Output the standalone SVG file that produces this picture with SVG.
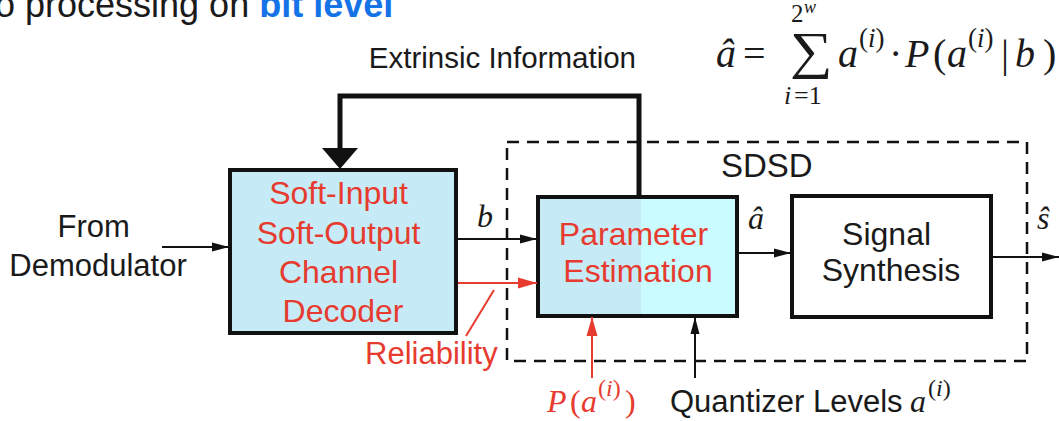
<svg xmlns="http://www.w3.org/2000/svg" width="1059" height="421" viewBox="0 0 1059 421">
  <defs>
    <style>
      .sans { font-family: "Liberation Sans", Arial, sans-serif; font-size: 31px; fill: #1a1a1a; }
      .big { font-size: 32px; }
      .mi { font-family: "Liberation Serif", "Times New Roman", serif; font-style: italic; fill: #1a1a1a; }
      .mu { font-family: "Liberation Serif", "Times New Roman", serif; fill: #1a1a1a; }
      .red, .red tspan { fill: #e63b2e; }
      .box { stroke: #111; stroke-width: 4; }
      .thin { stroke: #111; stroke-width: 2; fill: none; }
      .thinred { stroke: #e63b2e; stroke-width: 2; fill: none; }
      .dash { stroke: #111; stroke-width: 2.5; fill: none; stroke-dasharray: 12 8; }
    </style>
    <marker id="arrowBlack" markerUnits="userSpaceOnUse" markerWidth="18" markerHeight="10" refX="17" refY="5" orient="auto">
      <path d="M0,0.5 L17,5 L0,9.5 z" fill="#111"/>
    </marker>
    <marker id="arrowRed" markerUnits="userSpaceOnUse" markerWidth="20" markerHeight="12" refX="19" refY="6" orient="auto">
      <path d="M0,0.5 L19,6 L0,11.5 z" fill="#e63b2e"/>
    </marker>
  </defs>

  <rect width="1059" height="421" fill="#ffffff"/>

  <!-- heading line, runs off the left edge -->
  <text class="sans" x="-5" y="17" style="font-size:36px">o processing on <tspan style="font-weight:bold;fill:#1473e6">bit level</tspan></text>

  <!-- estimator formula -->
  <g id="formula">
    <text class="mi" x="716" y="67" font-size="40">â</text>
    <text class="mu" x="743" y="67" font-size="40">=</text>
    <text class="mu" font-size="52" transform="translate(790,68) scale(1.15,1)">∑</text>
    <text class="mu" x="791" y="22" font-size="25">2</text>
    <text class="mi" x="804" y="13" font-size="18">w</text>
    <text class="mi" x="784" y="104" font-size="26">i</text>
    <text class="mu" x="794" y="104" font-size="26">=1</text>
    <text class="mi" x="838" y="67" font-size="40">a</text>
    <text class="mu" x="859" y="47" font-size="27">(<tspan class="mi">i</tspan>)</text>
    <text class="mu" x="889" y="67" font-size="40">·</text>
    <text class="mi" x="905" y="67" font-size="40">P</text>
    <text class="mu" x="933" y="67" font-size="40">(</text>
    <text class="mi" x="947" y="67" font-size="40">a</text>
    <text class="mu" x="968" y="47" font-size="27">(<tspan class="mi">i</tspan>)</text>
    <text class="mu" x="1001" y="67" font-size="40">|</text>
    <text class="mi" x="1015" y="67" font-size="40">b</text>
    <text class="mu" x="1043" y="67" font-size="40">)</text>
  </g>

  <!-- SDSD boundary -->
  <g id="sdsd">
    <rect class="dash" x="507" y="142" width="520" height="219"/>
    <text class="sans" x="721" y="177" style="font-size:33px">SDSD</text>
  </g>

  <!-- channel decoder -->
  <g id="siso-decoder">
    <rect class="box" x="230" y="170" width="226" height="163" fill="#c6eaf6"/>
    <text class="sans big red" text-anchor="middle">
      <tspan x="343" y="204">Soft-Input</tspan>
      <tspan x="343" y="244">Soft-Output</tspan>
      <tspan x="343" y="283">Channel</tspan>
      <tspan x="343" y="322">Decoder</tspan>
    </text>
  </g>

  <!-- parameter estimation -->
  <g id="parameter-estimation">
    <rect x="538" y="197" width="103" height="119" fill="#c6eaf6"/>
    <rect x="641" y="197" width="96" height="119" fill="#c9fbff"/>
    <rect class="box" x="538" y="197" width="199" height="119" fill="none"/>
    <text class="sans big red" text-anchor="middle">
      <tspan x="638" y="245">Parameter</tspan>
      <tspan x="638" y="282">Estimation</tspan>
    </text>
  </g>

  <!-- signal synthesis -->
  <g id="signal-synthesis">
    <rect class="box" x="792" y="196" width="199" height="121" fill="#ffffff"/>
    <text class="sans big" text-anchor="middle">
      <tspan x="891" y="245">Signal</tspan>
      <tspan x="891" y="281">Synthesis</tspan>
    </text>
  </g>

  <!-- connectors -->
  <g id="connectors">
    <!-- extrinsic feedback loop -->
    <polyline points="639,197 639,96 340,96 340,150" fill="none" stroke="#111" stroke-width="5"/>
    <polygon points="322,148 358,148 340,169" fill="#111"/>
    <!-- demodulator input -->
    <line class="thin" x1="162" y1="247" x2="229" y2="247" marker-end="url(#arrowBlack)"/>
    <!-- b -->
    <line class="thin" x1="458" y1="239" x2="537" y2="239" marker-end="url(#arrowBlack)"/>
    <!-- reliability -->
    <line class="thinred" x1="458" y1="283" x2="537" y2="283" marker-end="url(#arrowRed)"/>
    <line class="thinred" x1="494" y1="290" x2="466" y2="336"/>
    <!-- a-hat -->
    <line class="thin" x1="739" y1="253" x2="791" y2="253" marker-end="url(#arrowBlack)"/>
    <!-- s-hat -->
    <line class="thin" x1="993" y1="257" x2="1059" y2="257" marker-end="url(#arrowBlack)"/>
    <!-- a priori probabilities -->
    <line class="thinred" x1="592" y1="378" x2="592" y2="317" marker-end="url(#arrowRed)"/>
    <!-- quantizer levels -->
    <line class="thin" x1="695" y1="378" x2="695" y2="317" marker-end="url(#arrowBlack)"/>
  </g>

  <!-- connector labels -->
  <g id="labels">
    <text class="sans" text-anchor="middle">
      <tspan x="98" y="237">From</tspan>
      <tspan x="98" y="276">Demodulator</tspan>
    </text>
    <text class="sans" x="636" y="68" text-anchor="end" style="font-size:29.5px">Extrinsic Information</text>
    <text class="mi" x="477" y="227" font-size="32">b</text>
    <text class="mi" x="748" y="229" font-size="32">â</text>
    <text class="mi" x="1037" y="229" font-size="32">ŝ</text>
    <text class="sans red" x="365" y="364">Reliability</text>
    <text class="mi red" x="547" y="412" font-size="32">P</text>
    <text class="mu red" x="570" y="412" font-size="32">(</text>
    <text class="mi red" x="581" y="412" font-size="32">a</text>
    <text class="mu red" x="598" y="396" font-size="24">(<tspan class="mi">i</tspan>)</text>
    <text class="mu red" x="625" y="412" font-size="32">)</text>
    <text class="sans" x="670" y="412">Quantizer Levels</text>
    <text class="mi" x="910" y="412" font-size="32">a</text>
    <text class="mu" x="928" y="396" font-size="24">(<tspan class="mi">i</tspan>)</text>
  </g>
</svg>
